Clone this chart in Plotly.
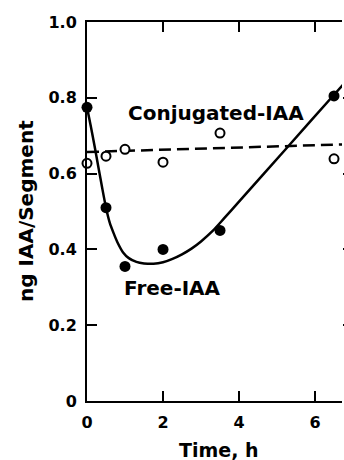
import plotly.graph_objects as go

# Data
time_pts = [0, 0.5, 1, 2, 3.5, 6.5]
free_iaa = [0.775, 0.51, 0.355, 0.40, 0.45, 0.805]
conj_iaa = [0.627, 0.646, 0.664, 0.630, 0.707, 0.639]

# Hand-drawn fitted curve for Free-IAA
free_curve_t = [0, 0.1, 0.2, 0.3, 0.4, 0.5, 0.6, 0.7, 0.8, 0.95, 1.1, 1.3, 1.5, 1.75,
                2.0, 2.25, 2.5, 2.75, 3.0, 3.3, 3.6, 4.0, 5.25, 6.5, 6.75]
free_curve_v = [0.775, 0.725, 0.672, 0.617, 0.562, 0.51, 0.47, 0.443, 0.419, 0.392, 0.377,
                0.367, 0.363, 0.362, 0.366, 0.375, 0.387, 0.402, 0.421, 0.448, 0.481,
                0.526, 0.667, 0.808, 0.836]

# Dashed regression line for Conjugated-IAA
conj_line_t = [0, 6.75]
conj_line_v = [0.657, 0.677]

x_ticks = [0, 2, 4, 6]
y_ticks = [0, 0.2, 0.4, 0.6, 0.8, 1.0]
y_tick_text = ["0", "0.2", "0.4", "0.6", "0.8", "1.0"]

FONT = "DejaVu Sans"

fig = go.Figure()

fig.add_trace(go.Scatter(x=conj_line_t, y=conj_line_v, mode="lines",
                         line=dict(color="black", width=2.5, dash="12px,6px"),
                         showlegend=False, hoverinfo="skip"))
fig.add_trace(go.Scatter(x=free_curve_t, y=free_curve_v, mode="lines",
                         line=dict(color="black", width=2.5, shape="spline", smoothing=0.6),
                         showlegend=False, hoverinfo="skip"))
fig.add_trace(go.Scatter(x=time_pts, y=conj_iaa, mode="markers",
                         marker=dict(size=9, color="white", line=dict(color="black", width=2)),
                         showlegend=False, cliponaxis=False))
fig.add_trace(go.Scatter(x=time_pts, y=free_iaa, mode="markers",
                         marker=dict(size=11, color="black", line=dict(color="black", width=0)),
                         showlegend=False, cliponaxis=False))
# invisible trace on right axis to carry the right-side tick stubs
fig.add_trace(go.Scatter(x=[None], y=[None], yaxis="y2", showlegend=False))

fig.add_annotation(x=3.39, y=0.76, text="Conjugated-IAA", showarrow=False,
                   font=dict(family=FONT, size=20, color="black", weight="bold"))
fig.add_annotation(x=2.26, y=0.297, text="Free-IAA", showarrow=False,
                   font=dict(family=FONT, size=20, color="black", weight="bold"))

# Axis titles as paper-positioned annotations
fig.add_annotation(xref="paper", yref="paper", x=(219 - 87) / 255, y=-(450 - 401) / 379,
                   text="Time, h", showarrow=False, xanchor="center", yanchor="middle",
                   font=dict(family=FONT, size=19, color="black", weight="bold"))
fig.add_annotation(xref="paper", yref="paper", x=-(87 - 26) / 255, y=(401 - 211) / 379,
                   text="ng IAA/Segment", showarrow=False, textangle=-90,
                   xanchor="center", yanchor="middle",
                   font=dict(family=FONT, size=20, color="black", weight="bold"))

fig.update_layout(
    width=344, height=460,
    margin=dict(l=87, r=2, t=22, b=59, autoexpand=False),
    paper_bgcolor="white", plot_bgcolor="white",
    font=dict(family=FONT, color="black", weight="bold"),
    xaxis=dict(range=[0, 6.71], tickvals=x_ticks, ticktext=[str(v) for v in x_ticks],
               ticks="inside", ticklen=10, tickwidth=2, tickcolor="black",
               showline=True, linewidth=2, linecolor="black", mirror="ticks",
               showgrid=False, zeroline=False, automargin=False,
               tickfont=dict(family=FONT, size=16, color="black", weight="bold"),
               ticklabelstandoff=6),
    yaxis=dict(range=[0, 1], tickvals=y_ticks, ticktext=y_tick_text,
               ticks="inside", ticklen=10, tickwidth=2, tickcolor="black",
               showline=True, linewidth=2, linecolor="black", mirror=False,
               showgrid=False, zeroline=False, automargin=False,
               tickfont=dict(family=FONT, size=16, color="black", weight="bold"),
               ticklabelstandoff=5),
    yaxis2=dict(range=[0, 1], overlaying="y", side="right", tickvals=[0.2, 0.4, 0.6, 0.8],
                ticks="outside", ticklen=10, tickwidth=2, tickcolor="black",
                showticklabels=False, showline=False, showgrid=False, zeroline=False,
                automargin=False),
)

fig.write_html("out.html", config={"displayModeBar": False},
               post_script="document.body.style.margin='0';document.body.style.overflow='hidden';")
